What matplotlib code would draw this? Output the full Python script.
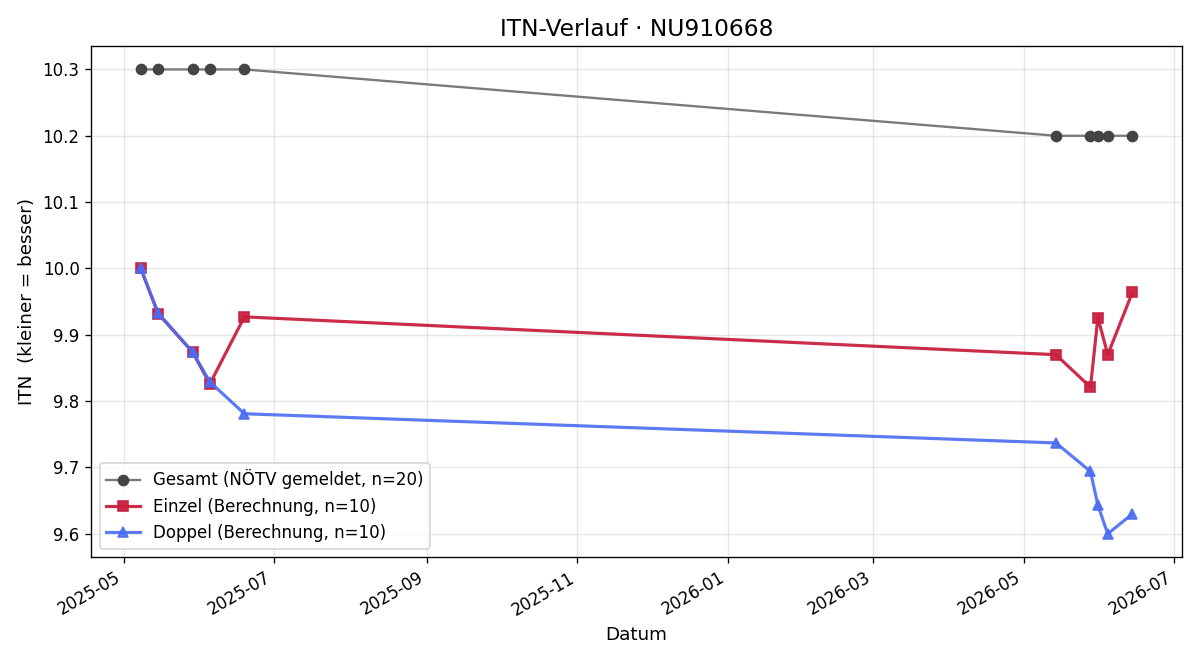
import matplotlib
matplotlib.use("Agg")
import matplotlib.pyplot as plt
import matplotlib.dates as mdates
import pandas as pd

dates = pd.to_datetime([
    "2025-05-08", "2025-05-15", "2025-05-29", "2025-06-05", "2025-06-19",
    "2026-05-14", "2026-05-28", "2026-05-31", "2026-06-04", "2026-06-14",
])
gesamt = [10.3, 10.3, 10.3, 10.3, 10.3, 10.2, 10.2, 10.2, 10.2, 10.2]
einzel = [10.0, 9.932, 9.874, 9.826, 9.927, 9.870, 9.821, 9.926, 9.870, 9.964]
doppel = [10.0, 9.933, 9.874, 9.829, 9.781, 9.737, 9.694, 9.643, 9.600, 9.630]

fig, ax = plt.subplots(figsize=(10, 5.5), dpi=120)
ax.plot(dates, gesamt, color="#7a7a7a", marker="o", markersize=6,
        markerfacecolor="#444444", markeredgecolor="#444444", linewidth=1.4,
        label="Gesamt (NÖTV gemeldet, n=20)")
ax.plot(dates, einzel, color="#c8203f", marker="s", markersize=6.5, linewidth=1.9,
        alpha=0.95, label="Einzel (Berechnung, n=10)")
ax.plot(dates, doppel, color="#4a6cf2", marker="^", markersize=6.5, linewidth=1.9,
        alpha=0.9, label="Doppel (Berechnung, n=10)")

ax.set_title("ITN-Verlauf · NU910668", fontsize=14)
ax.set_xlabel("Datum", fontsize=11)
ax.set_ylabel("ITN  (kleiner = besser)", fontsize=11)
ax.grid(True, alpha=0.3)
ax.xaxis.set_major_locator(mdates.MonthLocator(bymonth=[1, 3, 5, 7, 9, 11]))
ax.xaxis.set_major_formatter(mdates.DateFormatter("%Y-%m"))
ax.tick_params(labelsize=10)
ax.legend(loc="lower left", fontsize=10)
fig.autofmt_xdate()
fig.subplots_adjust(left=0.076, right=0.985, top=0.93, bottom=0.156)
fig.savefig("out.png", dpi=120)
